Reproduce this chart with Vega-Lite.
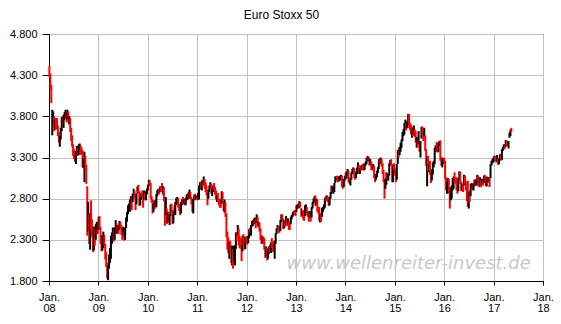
{
  "$schema": "https://vega.github.io/schema/vega-lite/v6.json",
  "autosize": "none",
  "padding": {"left": 49, "top": 34, "right": 18, "bottom": 43},
  "width": 494,
  "height": 247,
  "background": "white",
  "title": {"text": "Euro Stoxx 50", "fontSize": 12, "fontWeight": "normal", "font": "Liberation Sans", "color": "black", "anchor": "middle", "frame": "bounds", "offset": 6},
  "config": {
    "view": {"stroke": "black", "strokeWidth": 1},
    "axis": {"gridColor": "#c0c0c0", "gridWidth": 1, "domainColor": "black", "tickColor": "black", "labelColor": "black", "labelFont": "Liberation Sans", "labelFontSize": 11, "title": null}
  },
  "layer": [
    {
      "data": {"values": [{"site": "www.wellenreiter-invest.de"}]},
      "mark": {"type": "text", "align": "right", "baseline": "alphabetic", "font": "DejaVu Sans", "fontSize": 18, "fontStyle": "italic", "color": "#c8c8c8"},
      "encoding": {
        "text": {"field": "site"},
        "x": {"datum": {"year": 2017, "month": 10, "date": 3, "utc": true}, "type": "temporal"},
        "y": {"datum": 1946, "type": "quantitative"}
      }
    },
    {
      "data": {"values": [
{"t":"2008-01-04","l":4280,"h":4410,"d":"dn"},
{"t":"2008-01-11","l":4130,"h":4320,"d":"dn"},
{"t":"2008-01-18","l":3960,"h":4180,"d":"dn"},
{"t":"2008-01-25","l":3570,"h":3880,"d":"up"},
{"t":"2008-02-01","l":3700,"h":3860,"d":"up"},
{"t":"2008-02-08","l":3620,"h":3800,"d":"dn"},
{"t":"2008-02-15","l":3640,"h":3760,"d":"up"},
{"t":"2008-02-22","l":3640,"h":3780,"d":"dn"},
{"t":"2008-02-29","l":3660,"h":3780,"d":"dn"},
{"t":"2008-03-07","l":3560,"h":3690,"d":"dn"},
{"t":"2008-03-14","l":3480,"h":3610,"d":"dn"},
{"t":"2008-03-21","l":3430,"h":3560,"d":"up"},
{"t":"2008-03-28","l":3520,"h":3660,"d":"up"},
{"t":"2008-04-04","l":3620,"h":3790,"d":"up"},
{"t":"2008-04-11","l":3690,"h":3800,"d":"dn"},
{"t":"2008-04-18","l":3660,"h":3820,"d":"up"},
{"t":"2008-04-25","l":3760,"h":3850,"d":"up"},
{"t":"2008-05-02","l":3780,"h":3880,"d":"up"},
{"t":"2008-05-09","l":3730,"h":3860,"d":"dn"},
{"t":"2008-05-16","l":3760,"h":3880,"d":"up"},
{"t":"2008-05-23","l":3720,"h":3860,"d":"dn"},
{"t":"2008-05-30","l":3700,"h":3800,"d":"up"},
{"t":"2008-06-06","l":3610,"h":3780,"d":"dn"},
{"t":"2008-06-13","l":3500,"h":3660,"d":"dn"},
{"t":"2008-06-20","l":3430,"h":3570,"d":"dn"},
{"t":"2008-06-27","l":3320,"h":3460,"d":"dn"},
{"t":"2008-07-04","l":3280,"h":3400,"d":"dn"},
{"t":"2008-07-11","l":3250,"h":3370,"d":"dn"},
{"t":"2008-07-18","l":3220,"h":3380,"d":"up"},
{"t":"2008-07-25","l":3320,"h":3440,"d":"up"},
{"t":"2008-08-01","l":3320,"h":3420,"d":"dn"},
{"t":"2008-08-08","l":3330,"h":3460,"d":"up"},
{"t":"2008-08-15","l":3390,"h":3470,"d":"up"},
{"t":"2008-08-22","l":3330,"h":3450,"d":"dn"},
{"t":"2008-08-29","l":3340,"h":3420,"d":"dn"},
{"t":"2008-09-05","l":3180,"h":3390,"d":"dn"},
{"t":"2008-09-12","l":3170,"h":3290,"d":"up"},
{"t":"2008-09-19","l":3000,"h":3370,"d":"up"},
{"t":"2008-09-26","l":3150,"h":3320,"d":"dn"},
{"t":"2008-10-03","l":2980,"h":3210,"d":"dn"},
{"t":"2008-10-10","l":2350,"h":2950,"d":"dn"},
{"t":"2008-10-17","l":2400,"h":2760,"d":"up"},
{"t":"2008-10-24","l":2250,"h":2620,"d":"dn"},
{"t":"2008-10-31","l":2180,"h":2620,"d":"up"},
{"t":"2008-11-07","l":2420,"h":2780,"d":"dn"},
{"t":"2008-11-14","l":2330,"h":2550,"d":"dn"},
{"t":"2008-11-21","l":2150,"h":2450,"d":"dn"},
{"t":"2008-11-28","l":2170,"h":2460,"d":"up"},
{"t":"2008-12-05","l":2230,"h":2440,"d":"dn"},
{"t":"2008-12-12","l":2300,"h":2490,"d":"up"},
{"t":"2008-12-19","l":2380,"h":2520,"d":"up"},
{"t":"2008-12-26","l":2370,"h":2460,"d":"dn"},
{"t":"2009-01-02","l":2420,"h":2580,"d":"up"},
{"t":"2009-01-09","l":2440,"h":2590,"d":"dn"},
{"t":"2009-01-16","l":2250,"h":2460,"d":"dn"},
{"t":"2009-01-23","l":2160,"h":2340,"d":"dn"},
{"t":"2009-01-30","l":2170,"h":2360,"d":"up"},
{"t":"2009-02-06","l":2200,"h":2400,"d":"up"},
{"t":"2009-02-13","l":2230,"h":2360,"d":"dn"},
{"t":"2009-02-20","l":2060,"h":2250,"d":"dn"},
{"t":"2009-02-27","l":1970,"h":2150,"d":"dn"},
{"t":"2009-03-06","l":1830,"h":2020,"d":"dn"},
{"t":"2009-03-13","l":1810,"h":1990,"d":"up"},
{"t":"2009-03-20","l":1950,"h":2120,"d":"up"},
{"t":"2009-03-27","l":2020,"h":2200,"d":"up"},
{"t":"2009-04-03","l":2070,"h":2350,"d":"up"},
{"t":"2009-04-10","l":2250,"h":2390,"d":"up"},
{"t":"2009-04-17","l":2280,"h":2450,"d":"up"},
{"t":"2009-04-24","l":2280,"h":2400,"d":"dn"},
{"t":"2009-05-01","l":2300,"h":2450,"d":"up"},
{"t":"2009-05-08","l":2380,"h":2540,"d":"up"},
{"t":"2009-05-15","l":2370,"h":2500,"d":"dn"},
{"t":"2009-05-22","l":2380,"h":2480,"d":"up"},
{"t":"2009-05-29","l":2370,"h":2480,"d":"dn"},
{"t":"2009-06-05","l":2420,"h":2530,"d":"up"},
{"t":"2009-06-12","l":2430,"h":2520,"d":"dn"},
{"t":"2009-06-19","l":2360,"h":2480,"d":"dn"},
{"t":"2009-06-26","l":2300,"h":2420,"d":"dn"},
{"t":"2009-07-03","l":2350,"h":2460,"d":"up"},
{"t":"2009-07-10","l":2290,"h":2400,"d":"dn"},
{"t":"2009-07-17","l":2300,"h":2450,"d":"up"},
{"t":"2009-07-24","l":2440,"h":2570,"d":"up"},
{"t":"2009-07-31","l":2520,"h":2640,"d":"up"},
{"t":"2009-08-07","l":2610,"h":2720,"d":"up"},
{"t":"2009-08-14","l":2650,"h":2740,"d":"up"},
{"t":"2009-08-21","l":2640,"h":2790,"d":"up"},
{"t":"2009-08-28","l":2750,"h":2830,"d":"up"},
{"t":"2009-09-04","l":2660,"h":2820,"d":"dn"},
{"t":"2009-09-11","l":2760,"h":2860,"d":"up"},
{"t":"2009-09-18","l":2830,"h":2920,"d":"up"},
{"t":"2009-09-25","l":2800,"h":2900,"d":"dn"},
{"t":"2009-10-02","l":2660,"h":2860,"d":"dn"},
{"t":"2009-10-09","l":2730,"h":2860,"d":"up"},
{"t":"2009-10-16","l":2860,"h":2950,"d":"up"},
{"t":"2009-10-23","l":2860,"h":2970,"d":"dn"},
{"t":"2009-10-30","l":2710,"h":2890,"d":"dn"},
{"t":"2009-11-06","l":2720,"h":2820,"d":"up"},
{"t":"2009-11-13","l":2790,"h":2870,"d":"up"},
{"t":"2009-11-20","l":2810,"h":2900,"d":"dn"},
{"t":"2009-11-27","l":2690,"h":2870,"d":"dn"},
{"t":"2009-12-04","l":2790,"h":2900,"d":"up"},
{"t":"2009-12-11","l":2780,"h":2870,"d":"dn"},
{"t":"2009-12-18","l":2780,"h":2890,"d":"up"},
{"t":"2009-12-25","l":2850,"h":2920,"d":"up"},
{"t":"2010-01-01","l":2900,"h":2970,"d":"up"},
{"t":"2010-01-08","l":2960,"h":3030,"d":"up"},
{"t":"2010-01-15","l":2950,"h":3020,"d":"dn"},
{"t":"2010-01-22","l":2800,"h":2990,"d":"dn"},
{"t":"2010-01-29","l":2750,"h":2830,"d":"dn"},
{"t":"2010-02-05","l":2620,"h":2790,"d":"dn"},
{"t":"2010-02-12","l":2640,"h":2740,"d":"up"},
{"t":"2010-02-19","l":2680,"h":2780,"d":"up"},
{"t":"2010-02-26","l":2680,"h":2780,"d":"dn"},
{"t":"2010-03-05","l":2700,"h":2860,"d":"up"},
{"t":"2010-03-12","l":2830,"h":2900,"d":"up"},
{"t":"2010-03-19","l":2860,"h":2920,"d":"up"},
{"t":"2010-03-26","l":2850,"h":2920,"d":"dn"},
{"t":"2010-04-02","l":2880,"h":2950,"d":"up"},
{"t":"2010-04-09","l":2880,"h":2950,"d":"dn"},
{"t":"2010-04-16","l":2880,"h":2990,"d":"dn"},
{"t":"2010-04-23","l":2850,"h":2950,"d":"up"},
{"t":"2010-04-30","l":2770,"h":2940,"d":"dn"},
{"t":"2010-05-07","l":2470,"h":2820,"d":"dn"},
{"t":"2010-05-14","l":2600,"h":2820,"d":"up"},
{"t":"2010-05-21","l":2490,"h":2680,"d":"dn"},
{"t":"2010-05-28","l":2510,"h":2640,"d":"up"},
{"t":"2010-06-04","l":2510,"h":2640,"d":"dn"},
{"t":"2010-06-11","l":2480,"h":2610,"d":"up"},
{"t":"2010-06-18","l":2590,"h":2730,"d":"up"},
{"t":"2010-06-25","l":2620,"h":2740,"d":"dn"},
{"t":"2010-07-02","l":2490,"h":2610,"d":"dn"},
{"t":"2010-07-09","l":2500,"h":2660,"d":"up"},
{"t":"2010-07-16","l":2620,"h":2720,"d":"dn"},
{"t":"2010-07-23","l":2600,"h":2760,"d":"up"},
{"t":"2010-07-30","l":2720,"h":2810,"d":"up"},
{"t":"2010-08-06","l":2750,"h":2820,"d":"up"},
{"t":"2010-08-13","l":2690,"h":2810,"d":"dn"},
{"t":"2010-08-20","l":2650,"h":2740,"d":"dn"},
{"t":"2010-08-27","l":2600,"h":2700,"d":"dn"},
{"t":"2010-09-03","l":2620,"h":2760,"d":"up"},
{"t":"2010-09-10","l":2720,"h":2790,"d":"up"},
{"t":"2010-09-17","l":2730,"h":2820,"d":"dn"},
{"t":"2010-09-24","l":2740,"h":2800,"d":"up"},
{"t":"2010-10-01","l":2720,"h":2800,"d":"dn"},
{"t":"2010-10-08","l":2720,"h":2810,"d":"up"},
{"t":"2010-10-15","l":2780,"h":2850,"d":"up"},
{"t":"2010-10-22","l":2790,"h":2860,"d":"up"},
{"t":"2010-10-29","l":2800,"h":2880,"d":"dn"},
{"t":"2010-11-05","l":2800,"h":2910,"d":"up"},
{"t":"2010-11-12","l":2800,"h":2880,"d":"dn"},
{"t":"2010-11-19","l":2730,"h":2820,"d":"dn"},
{"t":"2010-11-26","l":2640,"h":2790,"d":"dn"},
{"t":"2010-12-03","l":2620,"h":2800,"d":"up"},
{"t":"2010-12-10","l":2780,"h":2850,"d":"up"},
{"t":"2010-12-17","l":2790,"h":2860,"d":"dn"},
{"t":"2010-12-24","l":2790,"h":2840,"d":"up"},
{"t":"2010-12-31","l":2780,"h":2830,"d":"dn"},
{"t":"2011-01-07","l":2790,"h":2870,"d":"up"},
{"t":"2011-01-14","l":2790,"h":2960,"d":"up"},
{"t":"2011-01-21","l":2910,"h":3000,"d":"up"},
{"t":"2011-01-28","l":2920,"h":2990,"d":"dn"},
{"t":"2011-02-04","l":2900,"h":3020,"d":"up"},
{"t":"2011-02-11","l":2960,"h":3030,"d":"dn"},
{"t":"2011-02-18","l":2970,"h":3070,"d":"up"},
{"t":"2011-02-25","l":2920,"h":3040,"d":"dn"},
{"t":"2011-03-04","l":2880,"h":3000,"d":"dn"},
{"t":"2011-03-11","l":2840,"h":2960,"d":"dn"},
{"t":"2011-03-18","l":2720,"h":2870,"d":"dn"},
{"t":"2011-03-25","l":2800,"h":2910,"d":"up"},
{"t":"2011-04-01","l":2880,"h":2960,"d":"up"},
{"t":"2011-04-08","l":2930,"h":3000,"d":"up"},
{"t":"2011-04-15","l":2860,"h":2980,"d":"dn"},
{"t":"2011-04-22","l":2830,"h":2920,"d":"up"},
{"t":"2011-04-29","l":2880,"h":2960,"d":"up"},
{"t":"2011-05-06","l":2900,"h":2990,"d":"dn"},
{"t":"2011-05-13","l":2850,"h":2940,"d":"dn"},
{"t":"2011-05-20","l":2790,"h":2900,"d":"dn"},
{"t":"2011-05-27","l":2760,"h":2840,"d":"up"},
{"t":"2011-06-03","l":2770,"h":2870,"d":"dn"},
{"t":"2011-06-10","l":2720,"h":2800,"d":"dn"},
{"t":"2011-06-17","l":2690,"h":2800,"d":"dn"},
{"t":"2011-06-24","l":2690,"h":2780,"d":"dn"},
{"t":"2011-07-01","l":2740,"h":2890,"d":"up"},
{"t":"2011-07-08","l":2780,"h":2880,"d":"dn"},
{"t":"2011-07-15","l":2650,"h":2770,"d":"dn"},
{"t":"2011-07-22","l":2630,"h":2790,"d":"up"},
{"t":"2011-07-29","l":2580,"h":2760,"d":"dn"},
{"t":"2011-08-05","l":2330,"h":2620,"d":"dn"},
{"t":"2011-08-12","l":2180,"h":2400,"d":"dn"},
{"t":"2011-08-19","l":2140,"h":2330,"d":"dn"},
{"t":"2011-08-26","l":2070,"h":2270,"d":"up"},
{"t":"2011-09-02","l":2140,"h":2290,"d":"dn"},
{"t":"2011-09-09","l":2020,"h":2230,"d":"dn"},
{"t":"2011-09-16","l":1990,"h":2230,"d":"up"},
{"t":"2011-09-23","l":1950,"h":2190,"d":"dn"},
{"t":"2011-09-30","l":2040,"h":2230,"d":"up"},
{"t":"2011-10-07","l":1990,"h":2230,"d":"up"},
{"t":"2011-10-14","l":2190,"h":2390,"d":"up"},
{"t":"2011-10-21","l":2280,"h":2390,"d":"dn"},
{"t":"2011-10-28","l":2350,"h":2480,"d":"up"},
{"t":"2011-11-04","l":2230,"h":2440,"d":"dn"},
{"t":"2011-11-11","l":2200,"h":2350,"d":"dn"},
{"t":"2011-11-18","l":2190,"h":2320,"d":"dn"},
{"t":"2011-11-25","l":2040,"h":2240,"d":"dn"},
{"t":"2011-12-02","l":2160,"h":2350,"d":"up"},
{"t":"2011-12-09","l":2240,"h":2370,"d":"dn"},
{"t":"2011-12-16","l":2180,"h":2320,"d":"dn"},
{"t":"2011-12-23","l":2190,"h":2340,"d":"up"},
{"t":"2011-12-30","l":2260,"h":2340,"d":"dn"},
{"t":"2012-01-06","l":2240,"h":2340,"d":"dn"},
{"t":"2012-01-13","l":2260,"h":2350,"d":"up"},
{"t":"2012-01-20","l":2320,"h":2430,"d":"up"},
{"t":"2012-01-27","l":2380,"h":2450,"d":"dn"},
{"t":"2012-02-03","l":2350,"h":2480,"d":"up"},
{"t":"2012-02-10","l":2460,"h":2530,"d":"up"},
{"t":"2012-02-17","l":2470,"h":2540,"d":"up"},
{"t":"2012-02-24","l":2490,"h":2560,"d":"dn"},
{"t":"2012-03-02","l":2490,"h":2570,"d":"up"},
{"t":"2012-03-09","l":2440,"h":2570,"d":"dn"},
{"t":"2012-03-16","l":2510,"h":2610,"d":"up"},
{"t":"2012-03-23","l":2470,"h":2580,"d":"dn"},
{"t":"2012-03-30","l":2450,"h":2520,"d":"up"},
{"t":"2012-04-06","l":2400,"h":2510,"d":"dn"},
{"t":"2012-04-13","l":2300,"h":2440,"d":"dn"},
{"t":"2012-04-20","l":2250,"h":2360,"d":"dn"},
{"t":"2012-04-27","l":2260,"h":2340,"d":"up"},
{"t":"2012-05-04","l":2250,"h":2340,"d":"dn"},
{"t":"2012-05-11","l":2180,"h":2320,"d":"dn"},
{"t":"2012-05-18","l":2080,"h":2210,"d":"dn"},
{"t":"2012-05-25","l":2100,"h":2220,"d":"up"},
{"t":"2012-06-01","l":2050,"h":2200,"d":"dn"},
{"t":"2012-06-08","l":2070,"h":2180,"d":"up"},
{"t":"2012-06-15","l":2130,"h":2220,"d":"up"},
{"t":"2012-06-22","l":2140,"h":2240,"d":"dn"},
{"t":"2012-06-29","l":2140,"h":2270,"d":"up"},
{"t":"2012-07-06","l":2200,"h":2320,"d":"dn"},
{"t":"2012-07-13","l":2150,"h":2260,"d":"dn"},
{"t":"2012-07-20","l":2170,"h":2280,"d":"dn"},
{"t":"2012-07-27","l":2070,"h":2290,"d":"up"},
{"t":"2012-08-03","l":2250,"h":2380,"d":"up"},
{"t":"2012-08-10","l":2370,"h":2440,"d":"up"},
{"t":"2012-08-17","l":2420,"h":2480,"d":"up"},
{"t":"2012-08-24","l":2380,"h":2470,"d":"dn"},
{"t":"2012-08-31","l":2390,"h":2470,"d":"dn"},
{"t":"2012-09-07","l":2410,"h":2540,"d":"up"},
{"t":"2012-09-14","l":2520,"h":2610,"d":"up"},
{"t":"2012-09-21","l":2540,"h":2610,"d":"dn"},
{"t":"2012-09-28","l":2430,"h":2560,"d":"dn"},
{"t":"2012-10-05","l":2440,"h":2540,"d":"up"},
{"t":"2012-10-12","l":2460,"h":2540,"d":"dn"},
{"t":"2012-10-19","l":2500,"h":2590,"d":"up"},
{"t":"2012-10-26","l":2470,"h":2560,"d":"dn"},
{"t":"2012-11-02","l":2480,"h":2560,"d":"up"},
{"t":"2012-11-09","l":2420,"h":2530,"d":"dn"},
{"t":"2012-11-16","l":2420,"h":2500,"d":"dn"},
{"t":"2012-11-23","l":2490,"h":2580,"d":"up"},
{"t":"2012-11-30","l":2550,"h":2600,"d":"up"},
{"t":"2012-12-07","l":2580,"h":2630,"d":"up"},
{"t":"2012-12-14","l":2600,"h":2650,"d":"up"},
{"t":"2012-12-21","l":2610,"h":2660,"d":"dn"},
{"t":"2012-12-28","l":2590,"h":2660,"d":"dn"},
{"t":"2013-01-04","l":2640,"h":2720,"d":"up"},
{"t":"2013-01-11","l":2680,"h":2730,"d":"up"},
{"t":"2013-01-18","l":2680,"h":2740,"d":"dn"},
{"t":"2013-01-25","l":2690,"h":2770,"d":"up"},
{"t":"2013-02-01","l":2700,"h":2760,"d":"dn"},
{"t":"2013-02-08","l":2580,"h":2690,"d":"dn"},
{"t":"2013-02-15","l":2590,"h":2660,"d":"up"},
{"t":"2013-02-22","l":2550,"h":2660,"d":"dn"},
{"t":"2013-03-01","l":2530,"h":2620,"d":"dn"},
{"t":"2013-03-08","l":2590,"h":2720,"d":"up"},
{"t":"2013-03-15","l":2680,"h":2730,"d":"up"},
{"t":"2013-03-22","l":2600,"h":2700,"d":"dn"},
{"t":"2013-03-29","l":2580,"h":2650,"d":"dn"},
{"t":"2013-04-05","l":2520,"h":2650,"d":"dn"},
{"t":"2013-04-12","l":2570,"h":2650,"d":"up"},
{"t":"2013-04-19","l":2520,"h":2620,"d":"dn"},
{"t":"2013-04-26","l":2570,"h":2700,"d":"up"},
{"t":"2013-05-03","l":2680,"h":2760,"d":"up"},
{"t":"2013-05-10","l":2740,"h":2800,"d":"up"},
{"t":"2013-05-17","l":2760,"h":2830,"d":"up"},
{"t":"2013-05-24","l":2710,"h":2840,"d":"dn"},
{"t":"2013-05-31","l":2720,"h":2800,"d":"up"},
{"t":"2013-06-07","l":2640,"h":2790,"d":"dn"},
{"t":"2013-06-14","l":2620,"h":2700,"d":"dn"},
{"t":"2013-06-21","l":2530,"h":2700,"d":"dn"},
{"t":"2013-06-28","l":2510,"h":2610,"d":"up"},
{"t":"2013-07-05","l":2520,"h":2630,"d":"dn"},
{"t":"2013-07-12","l":2580,"h":2690,"d":"up"},
{"t":"2013-07-19","l":2640,"h":2700,"d":"up"},
{"t":"2013-07-26","l":2670,"h":2730,"d":"up"},
{"t":"2013-08-02","l":2690,"h":2810,"d":"up"},
{"t":"2013-08-09","l":2770,"h":2830,"d":"dn"},
{"t":"2013-08-16","l":2790,"h":2840,"d":"up"},
{"t":"2013-08-23","l":2760,"h":2830,"d":"dn"},
{"t":"2013-08-30","l":2710,"h":2790,"d":"dn"},
{"t":"2013-09-06","l":2720,"h":2820,"d":"up"},
{"t":"2013-09-13","l":2800,"h":2880,"d":"up"},
{"t":"2013-09-20","l":2860,"h":2960,"d":"up"},
{"t":"2013-09-27","l":2880,"h":2950,"d":"dn"},
{"t":"2013-10-04","l":2860,"h":2950,"d":"up"},
{"t":"2013-10-11","l":2880,"h":2990,"d":"up"},
{"t":"2013-10-18","l":2990,"h":3070,"d":"up"},
{"t":"2013-10-25","l":3020,"h":3070,"d":"up"},
{"t":"2013-11-01","l":3010,"h":3080,"d":"dn"},
{"t":"2013-11-08","l":3000,"h":3070,"d":"dn"},
{"t":"2013-11-15","l":3010,"h":3070,"d":"up"},
{"t":"2013-11-22","l":3020,"h":3080,"d":"up"},
{"t":"2013-11-29","l":3040,"h":3090,"d":"up"},
{"t":"2013-12-06","l":2940,"h":3080,"d":"dn"},
{"t":"2013-12-13","l":2920,"h":3000,"d":"dn"},
{"t":"2013-12-20","l":2940,"h":3040,"d":"up"},
{"t":"2013-12-27","l":3020,"h":3080,"d":"up"},
{"t":"2014-01-03","l":3040,"h":3120,"d":"dn"},
{"t":"2014-01-10","l":3040,"h":3130,"d":"up"},
{"t":"2014-01-17","l":3080,"h":3160,"d":"up"},
{"t":"2014-01-24","l":3000,"h":3140,"d":"dn"},
{"t":"2014-01-31","l":2980,"h":3060,"d":"dn"},
{"t":"2014-02-07","l":2960,"h":3040,"d":"up"},
{"t":"2014-02-14","l":3030,"h":3120,"d":"up"},
{"t":"2014-02-21","l":3100,"h":3160,"d":"up"},
{"t":"2014-02-28","l":3120,"h":3180,"d":"up"},
{"t":"2014-03-07","l":3050,"h":3170,"d":"dn"},
{"t":"2014-03-14","l":3030,"h":3100,"d":"dn"},
{"t":"2014-03-21","l":3050,"h":3130,"d":"up"},
{"t":"2014-03-28","l":3100,"h":3180,"d":"up"},
{"t":"2014-04-04","l":3170,"h":3240,"d":"up"},
{"t":"2014-04-11","l":3100,"h":3210,"d":"dn"},
{"t":"2014-04-18","l":3100,"h":3170,"d":"up"},
{"t":"2014-04-25","l":3140,"h":3200,"d":"dn"},
{"t":"2014-05-02","l":3150,"h":3210,"d":"up"},
{"t":"2014-05-09","l":3150,"h":3220,"d":"dn"},
{"t":"2014-05-16","l":3140,"h":3230,"d":"dn"},
{"t":"2014-05-23","l":3150,"h":3220,"d":"up"},
{"t":"2014-05-30","l":3200,"h":3250,"d":"up"},
{"t":"2014-06-06","l":3220,"h":3300,"d":"up"},
{"t":"2014-06-13","l":3260,"h":3320,"d":"dn"},
{"t":"2014-06-20","l":3250,"h":3310,"d":"up"},
{"t":"2014-06-27","l":3200,"h":3290,"d":"dn"},
{"t":"2014-07-04","l":3210,"h":3280,"d":"up"},
{"t":"2014-07-11","l":3150,"h":3250,"d":"dn"},
{"t":"2014-07-18","l":3140,"h":3210,"d":"dn"},
{"t":"2014-07-25","l":3160,"h":3220,"d":"up"},
{"t":"2014-08-01","l":3050,"h":3200,"d":"dn"},
{"t":"2014-08-08","l":3000,"h":3090,"d":"dn"},
{"t":"2014-08-15","l":3030,"h":3100,"d":"up"},
{"t":"2014-08-22","l":3060,"h":3140,"d":"up"},
{"t":"2014-08-29","l":3110,"h":3180,"d":"up"},
{"t":"2014-09-05","l":3160,"h":3280,"d":"up"},
{"t":"2014-09-12","l":3220,"h":3290,"d":"dn"},
{"t":"2014-09-19","l":3220,"h":3300,"d":"up"},
{"t":"2014-09-26","l":3190,"h":3280,"d":"dn"},
{"t":"2014-10-03","l":3100,"h":3230,"d":"dn"},
{"t":"2014-10-10","l":3000,"h":3150,"d":"dn"},
{"t":"2014-10-17","l":2800,"h":3040,"d":"dn"},
{"t":"2014-10-24","l":2920,"h":3040,"d":"up"},
{"t":"2014-10-31","l":2970,"h":3120,"d":"up"},
{"t":"2014-11-07","l":3030,"h":3110,"d":"dn"},
{"t":"2014-11-14","l":3020,"h":3100,"d":"up"},
{"t":"2014-11-21","l":3080,"h":3230,"d":"up"},
{"t":"2014-11-28","l":3200,"h":3270,"d":"up"},
{"t":"2014-12-05","l":3200,"h":3280,"d":"dn"},
{"t":"2014-12-12","l":3000,"h":3220,"d":"dn"},
{"t":"2014-12-19","l":3000,"h":3200,"d":"up"},
{"t":"2014-12-26","l":3150,"h":3230,"d":"dn"},
{"t":"2015-01-02","l":3080,"h":3170,"d":"dn"},
{"t":"2015-01-09","l":3000,"h":3140,"d":"dn"},
{"t":"2015-01-16","l":3030,"h":3220,"d":"up"},
{"t":"2015-01-23","l":3220,"h":3390,"d":"up"},
{"t":"2015-01-30","l":3300,"h":3410,"d":"dn"},
{"t":"2015-02-06","l":3330,"h":3430,"d":"up"},
{"t":"2015-02-13","l":3370,"h":3480,"d":"up"},
{"t":"2015-02-20","l":3420,"h":3520,"d":"up"},
{"t":"2015-02-27","l":3500,"h":3610,"d":"up"},
{"t":"2015-03-06","l":3560,"h":3640,"d":"up"},
{"t":"2015-03-13","l":3580,"h":3720,"d":"up"},
{"t":"2015-03-20","l":3640,"h":3760,"d":"up"},
{"t":"2015-03-27","l":3630,"h":3720,"d":"dn"},
{"t":"2015-04-03","l":3660,"h":3740,"d":"up"},
{"t":"2015-04-10","l":3700,"h":3830,"d":"up"},
{"t":"2015-04-17","l":3660,"h":3830,"d":"dn"},
{"t":"2015-04-24","l":3630,"h":3720,"d":"dn"},
{"t":"2015-05-01","l":3580,"h":3700,"d":"dn"},
{"t":"2015-05-08","l":3540,"h":3650,"d":"up"},
{"t":"2015-05-15","l":3560,"h":3670,"d":"dn"},
{"t":"2015-05-22","l":3580,"h":3690,"d":"up"},
{"t":"2015-05-29","l":3550,"h":3640,"d":"dn"},
{"t":"2015-06-05","l":3480,"h":3620,"d":"dn"},
{"t":"2015-06-12","l":3420,"h":3550,"d":"up"},
{"t":"2015-06-19","l":3420,"h":3520,"d":"dn"},
{"t":"2015-06-26","l":3460,"h":3620,"d":"up"},
{"t":"2015-07-03","l":3370,"h":3500,"d":"dn"},
{"t":"2015-07-10","l":3300,"h":3500,"d":"up"},
{"t":"2015-07-17","l":3530,"h":3670,"d":"up"},
{"t":"2015-07-24","l":3570,"h":3680,"d":"dn"},
{"t":"2015-07-31","l":3500,"h":3620,"d":"dn"},
{"t":"2015-08-07","l":3550,"h":3660,"d":"up"},
{"t":"2015-08-14","l":3380,"h":3570,"d":"dn"},
{"t":"2015-08-21","l":3200,"h":3400,"d":"dn"},
{"t":"2015-08-28","l":2950,"h":3300,"d":"up"},
{"t":"2015-09-04","l":3130,"h":3320,"d":"dn"},
{"t":"2015-09-11","l":3120,"h":3220,"d":"up"},
{"t":"2015-09-18","l":3090,"h":3260,"d":"dn"},
{"t":"2015-09-25","l":2990,"h":3160,"d":"dn"},
{"t":"2015-10-02","l":3020,"h":3150,"d":"up"},
{"t":"2015-10-09","l":3090,"h":3240,"d":"up"},
{"t":"2015-10-16","l":3180,"h":3260,"d":"up"},
{"t":"2015-10-23","l":3220,"h":3420,"d":"up"},
{"t":"2015-10-30","l":3370,"h":3450,"d":"up"},
{"t":"2015-11-06","l":3370,"h":3490,"d":"dn"},
{"t":"2015-11-13","l":3360,"h":3450,"d":"dn"},
{"t":"2015-11-20","l":3370,"h":3480,"d":"up"},
{"t":"2015-11-27","l":3440,"h":3500,"d":"up"},
{"t":"2015-12-04","l":3260,"h":3510,"d":"dn"},
{"t":"2015-12-11","l":3200,"h":3310,"d":"dn"},
{"t":"2015-12-18","l":3180,"h":3290,"d":"up"},
{"t":"2015-12-25","l":3220,"h":3290,"d":"up"},
{"t":"2016-01-01","l":3240,"h":3300,"d":"dn"},
{"t":"2016-01-08","l":3040,"h":3260,"d":"dn"},
{"t":"2016-01-15","l":2900,"h":3060,"d":"dn"},
{"t":"2016-01-22","l":2860,"h":3000,"d":"up"},
{"t":"2016-01-29","l":2900,"h":3050,"d":"up"},
{"t":"2016-02-05","l":2860,"h":3040,"d":"dn"},
{"t":"2016-02-12","l":2680,"h":2900,"d":"dn"},
{"t":"2016-02-19","l":2780,"h":2940,"d":"up"},
{"t":"2016-02-26","l":2800,"h":2960,"d":"up"},
{"t":"2016-03-04","l":2900,"h":3050,"d":"up"},
{"t":"2016-03-11","l":2920,"h":3070,"d":"up"},
{"t":"2016-03-18","l":3000,"h":3120,"d":"dn"},
{"t":"2016-03-25","l":2980,"h":3060,"d":"dn"},
{"t":"2016-04-01","l":2900,"h":3060,"d":"dn"},
{"t":"2016-04-08","l":2860,"h":2960,"d":"dn"},
{"t":"2016-04-15","l":2890,"h":3050,"d":"up"},
{"t":"2016-04-22","l":3030,"h":3130,"d":"up"},
{"t":"2016-04-29","l":2980,"h":3130,"d":"dn"},
{"t":"2016-05-06","l":2890,"h":3010,"d":"dn"},
{"t":"2016-05-13","l":2900,"h":2970,"d":"up"},
{"t":"2016-05-20","l":2880,"h":2990,"d":"dn"},
{"t":"2016-05-27","l":2960,"h":3090,"d":"up"},
{"t":"2016-06-03","l":2980,"h":3080,"d":"dn"},
{"t":"2016-06-10","l":2900,"h":3010,"d":"dn"},
{"t":"2016-06-17","l":2770,"h":2940,"d":"dn"},
{"t":"2016-06-24","l":2700,"h":3020,"d":"dn"},
{"t":"2016-07-01","l":2680,"h":2880,"d":"up"},
{"t":"2016-07-08","l":2760,"h":2900,"d":"dn"},
{"t":"2016-07-15","l":2830,"h":2980,"d":"up"},
{"t":"2016-07-22","l":2920,"h":2990,"d":"up"},
{"t":"2016-07-29","l":2900,"h":2990,"d":"dn"},
{"t":"2016-08-05","l":2900,"h":2980,"d":"up"},
{"t":"2016-08-12","l":2950,"h":3030,"d":"up"},
{"t":"2016-08-19","l":2960,"h":3040,"d":"dn"},
{"t":"2016-08-26","l":2960,"h":3020,"d":"up"},
{"t":"2016-09-02","l":2970,"h":3090,"d":"up"},
{"t":"2016-09-09","l":2950,"h":3080,"d":"dn"},
{"t":"2016-09-16","l":2940,"h":3010,"d":"dn"},
{"t":"2016-09-23","l":2960,"h":3060,"d":"up"},
{"t":"2016-09-30","l":2940,"h":3030,"d":"dn"},
{"t":"2016-10-07","l":2970,"h":3040,"d":"up"},
{"t":"2016-10-14","l":2960,"h":3030,"d":"dn"},
{"t":"2016-10-21","l":2990,"h":3080,"d":"up"},
{"t":"2016-10-28","l":3030,"h":3090,"d":"dn"},
{"t":"2016-11-04","l":2950,"h":3050,"d":"dn"},
{"t":"2016-11-11","l":2950,"h":3070,"d":"up"},
{"t":"2016-11-18","l":2990,"h":3060,"d":"dn"},
{"t":"2016-11-25","l":3000,"h":3060,"d":"up"},
{"t":"2016-12-02","l":2940,"h":3050,"d":"dn"},
{"t":"2016-12-09","l":3050,"h":3220,"d":"up"},
{"t":"2016-12-16","l":3200,"h":3260,"d":"up"},
{"t":"2016-12-23","l":3230,"h":3280,"d":"up"},
{"t":"2016-12-30","l":3240,"h":3300,"d":"up"},
{"t":"2017-01-06","l":3260,"h":3320,"d":"up"},
{"t":"2017-01-13","l":3260,"h":3320,"d":"dn"},
{"t":"2017-01-20","l":3240,"h":3320,"d":"dn"},
{"t":"2017-01-27","l":3250,"h":3330,"d":"up"},
{"t":"2017-02-03","l":3210,"h":3290,"d":"dn"},
{"t":"2017-02-10","l":3220,"h":3290,"d":"up"},
{"t":"2017-02-17","l":3270,"h":3340,"d":"up"},
{"t":"2017-02-24","l":3260,"h":3340,"d":"dn"},
{"t":"2017-03-03","l":3270,"h":3400,"d":"up"},
{"t":"2017-03-10","l":3380,"h":3430,"d":"up"},
{"t":"2017-03-17","l":3410,"h":3460,"d":"up"},
{"t":"2017-03-24","l":3400,"h":3460,"d":"dn"},
{"t":"2017-03-31","l":3430,"h":3510,"d":"up"},
{"t":"2017-04-07","l":3450,"h":3510,"d":"dn"},
{"t":"2017-04-14","l":3440,"h":3490,"d":"dn"},
{"t":"2017-04-21","l":3410,"h":3500,"d":"up"},
{"t":"2017-04-28","l":3540,"h":3600,"d":"up"},
{"t":"2017-05-05","l":3560,"h":3640,"d":"up"},
{"t":"2017-05-12","l":3610,"h":3660,"d":"dn"}
      ]},
      "mark": {"type": "rule", "strokeWidth": 2, "strokeCap": "butt"},
      "encoding": {
        "x": {
          "field": "t", "type": "temporal",
          "scale": {"type": "utc", "domain": [{"year": 2008, "month": 1, "date": 1, "utc": true}, {"year": 2018, "month": 1, "date": 1, "utc": true}]},
          "axis": {
            "values": [
              {"year": 2008, "month": 1, "date": 1, "utc": true},
              {"year": 2009, "month": 1, "date": 1, "utc": true},
              {"year": 2010, "month": 1, "date": 1, "utc": true},
              {"year": 2011, "month": 1, "date": 1, "utc": true},
              {"year": 2012, "month": 1, "date": 1, "utc": true},
              {"year": 2013, "month": 1, "date": 1, "utc": true},
              {"year": 2014, "month": 1, "date": 1, "utc": true},
              {"year": 2015, "month": 1, "date": 1, "utc": true},
              {"year": 2016, "month": 1, "date": 1, "utc": true},
              {"year": 2017, "month": 1, "date": 1, "utc": true},
              {"year": 2018, "month": 1, "date": 1, "utc": true}
            ],
            "labelExpr": "['Jan.', utcFormat(datum.value, '%y')]",
            "labelAlign": "center",
            "labelBaseline": "top",
            "labelLineHeight": 11,
            "labelPadding": 6,
            "labelOverlap": false,
            "labelFlush": false,
            "tickSize": 4,
            "grid": true
          }
        },
        "y": {
          "field": "l", "type": "quantitative",
          "scale": {"domain": [1800, 4800], "nice": false, "zero": false},
          "axis": {
            "values": [1800, 2300, 2800, 3300, 3800, 4300, 4800],
            "labelExpr": "replace(format(datum.value, ','), ',', '.')",
            "tickSize": 7,
            "labelPadding": 5,
            "grid": true
          }
        },
        "y2": {"field": "h"},
        "color": {"field": "d", "type": "nominal", "scale": {"domain": ["up", "dn"], "range": ["#000000", "#ff0000"]}, "legend": null}
      }
    }
  ]
}
